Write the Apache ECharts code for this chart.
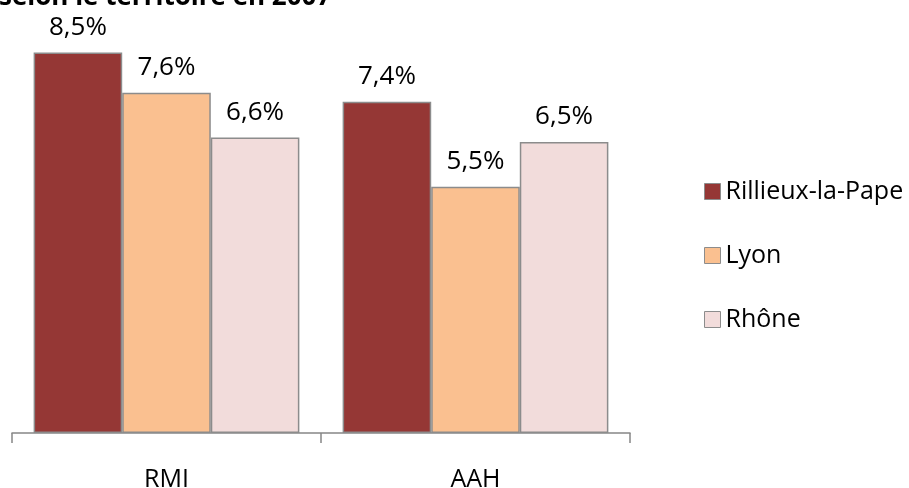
<!DOCTYPE html>
<html><head><meta charset="utf-8">
<script src="https://cdn.jsdelivr.net/npm/echarts@6/dist/echarts.min.js"></script>
<style>html,body{margin:0;padding:0;background:#fff}#c{width:909px;height:488px}</style>
</head><body><div id="c"></div>
<script>
const titleText = "selon le territoire en 2007";
const categories = ["RMI", "AAH"];
const seriesNames = ["Rillieux-la-Pape", "Lyon", "Rhône"];
const rillieux = [8.5, 7.4];
const lyon = [7.6, 5.5];
const rhone = [6.6, 6.5];
const colors = ["#953735", "#FAC090", "#F2DCDB"];
const FONT = "'Open Sans', sans-serif";

const chart = echarts.init(document.getElementById('c'));
const mk = (name, data, color) => ({
  name, type: 'bar', data,
  itemStyle: { color, borderColor: '#8c8c8c', borderWidth: 1.5 },
  barGap: '0%', barCategoryGap: '14%',
  label: { show: true, position: 'top', distance: 12, color: '#000', fontFamily: FONT, fontSize: 26,
    formatter: p => p.value.toFixed(1).replace('.', ',') + '%' }
});
chart.setOption({
  animation: false,
  title: { text: titleText, left: -1, top: -15, padding: 0, textStyle: { fontFamily: FONT, fontSize: 26, fontWeight: 'bold', color: '#000' } },
  grid: { left: 12, right: 279, top: 30, bottom: 55, outerBoundsMode: 'none', containLabel: false },
  legend: {
    orient: 'vertical', left: 699, top: 174, itemWidth: 16, itemHeight: 16, itemGap: 39,
    icon: 'rect',
    textStyle: { fontFamily: FONT, fontSize: 25, color: '#000' },
    itemStyle: { borderColor: '#8c8c8c', borderWidth: 1 },
    data: seriesNames
  },
  xAxis: {
    type: 'category', data: categories,
    axisLine: { lineStyle: { color: '#868686', width: 1.5 } },
    axisTick: { show: true, length: 10, lineStyle: { color: '#868686', width: 1.5 } },
    axisLabel: { margin: 34, color: '#000', fontFamily: FONT, fontSize: 25 }
  },
  yAxis: { type: 'value', min: 0, max: 9, show: false, splitLine: { show: false } },
  series: [mk(seriesNames[0], rillieux, colors[0]), mk(seriesNames[1], lyon, colors[1]), mk(seriesNames[2], rhone, colors[2])]
});
</script></body></html>
